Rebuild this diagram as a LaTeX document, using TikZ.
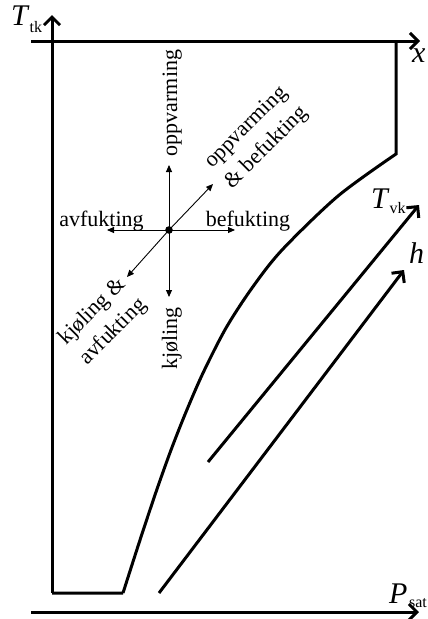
\documentclass[tikz,border=0pt]{standalone}
\usepackage{fontspec}
\setmainfont{Liberation Serif}
\usetikzlibrary{arrows.meta}
\newcommand\mlab[4]{{\fontsize{30}{30}\selectfont\textit{#1}}\kern#4pt\raisebox{-#3pt}{\fontsize{16}{16}\selectfont #2}}
\begin{document}
\begin{tikzpicture}[x=1pt,y=-1pt,
  heavy/.style={line width=3pt},
  axisarrow/.style={line width=3pt,-{Straight Barb[length=8pt,width=16pt]}},
  thinarrow/.style={line width=0.9pt,-{Triangle[length=7pt,width=6pt]}},
  lbl/.style={font=\fontsize{22}{29}\selectfont,inner sep=0pt},
  mathlbl/.style={inner sep=0pt,anchor=base west}]
\useasboundingbox (0,0) rectangle (428,619);
% coordinates
\coordinate (ybot) at (52,593);
\coordinate (ytop) at (52,15);
\coordinate (xl) at (31,41);
\coordinate (xr) at (420,41);
\coordinate (pl) at (31,612);
\coordinate (pr) at (419,612);
\coordinate (b1) at (123,593);
\coordinate (rc) at (396,154);
\coordinate (rt) at (396,41);
\coordinate (vks) at (208,462);
\coordinate (vke) at (419,205);
\coordinate (hs) at (159,593);
\coordinate (he) at (404,270);
\coordinate (c) at (169,230);
\coordinate (cu) at (169,165);
\coordinate (cd) at (169,297);
\coordinate (cl) at (107,230);
\coordinate (cr) at (235,230);
\coordinate (cne) at (213,184);
\coordinate (csw) at (127,277);
% axes
\draw[axisarrow] (ybot) -- (ytop);
\draw[axisarrow] (xl) -- (xr);
\draw[axisarrow] (pl) -- (pr);
% region boundary
\draw[heavy,line join=miter] (ybot) -- (b1)
  plot[smooth,tension=0.5] coordinates {(123,593) (140,540) (156,492) (171,450) (186,412) (203,373) (226,328) (252,288) (282,250) (338,196) (396,154)}
  -- (rt);
% diagonal arrows
\draw[axisarrow] (vks) -- (vke);
\draw[axisarrow] (hs) -- (he);
% direction cross
\draw[thinarrow] (c) -- (cu);
\draw[thinarrow] (c) -- (cd);
\draw[thinarrow] (c) -- (cl);
\draw[thinarrow] (c) -- (cr);
\draw[thinarrow] (c) -- (cne);
\draw[thinarrow] (c) -- (csw);
\fill (c) circle (3.8);
% labels
\node[lbl,anchor=base] (avf) at (101.5,226.5) {avfukting};
\node[lbl,anchor=base] (bef) at (248,226.5) {befukting};
\node[lbl,anchor=base,rotate=90] (opp) at (177,103) {oppvarming};
\node[lbl,anchor=base,rotate=90] (kjo) at (177,338.5) {kjøling};
\node[lbl,align=center,rotate=45] (oppbef) at (257,138) {oppvarming\\\& befukting};
\node[lbl,align=center,rotate=45] (kjoavf) at (103,322) {kjøling \&\\avfukting};
\node[mathlbl] (ttk) at (11,25) {\mlab{T}{tk}{7}{0}};
\node[mathlbl] (xlab) at (412,62) {\mlab{x}{}{0}{0}};
\node[mathlbl] (psat) at (389,603) {\mlab{P}{sat}{4}{1.5}};
\node[mathlbl] (tvk) at (371,208) {\mlab{T}{vk}{5}{0}};
\node[mathlbl] (hlab) at (409,263) {\mlab{h}{}{0}{0}};
\end{tikzpicture}
\end{document}
